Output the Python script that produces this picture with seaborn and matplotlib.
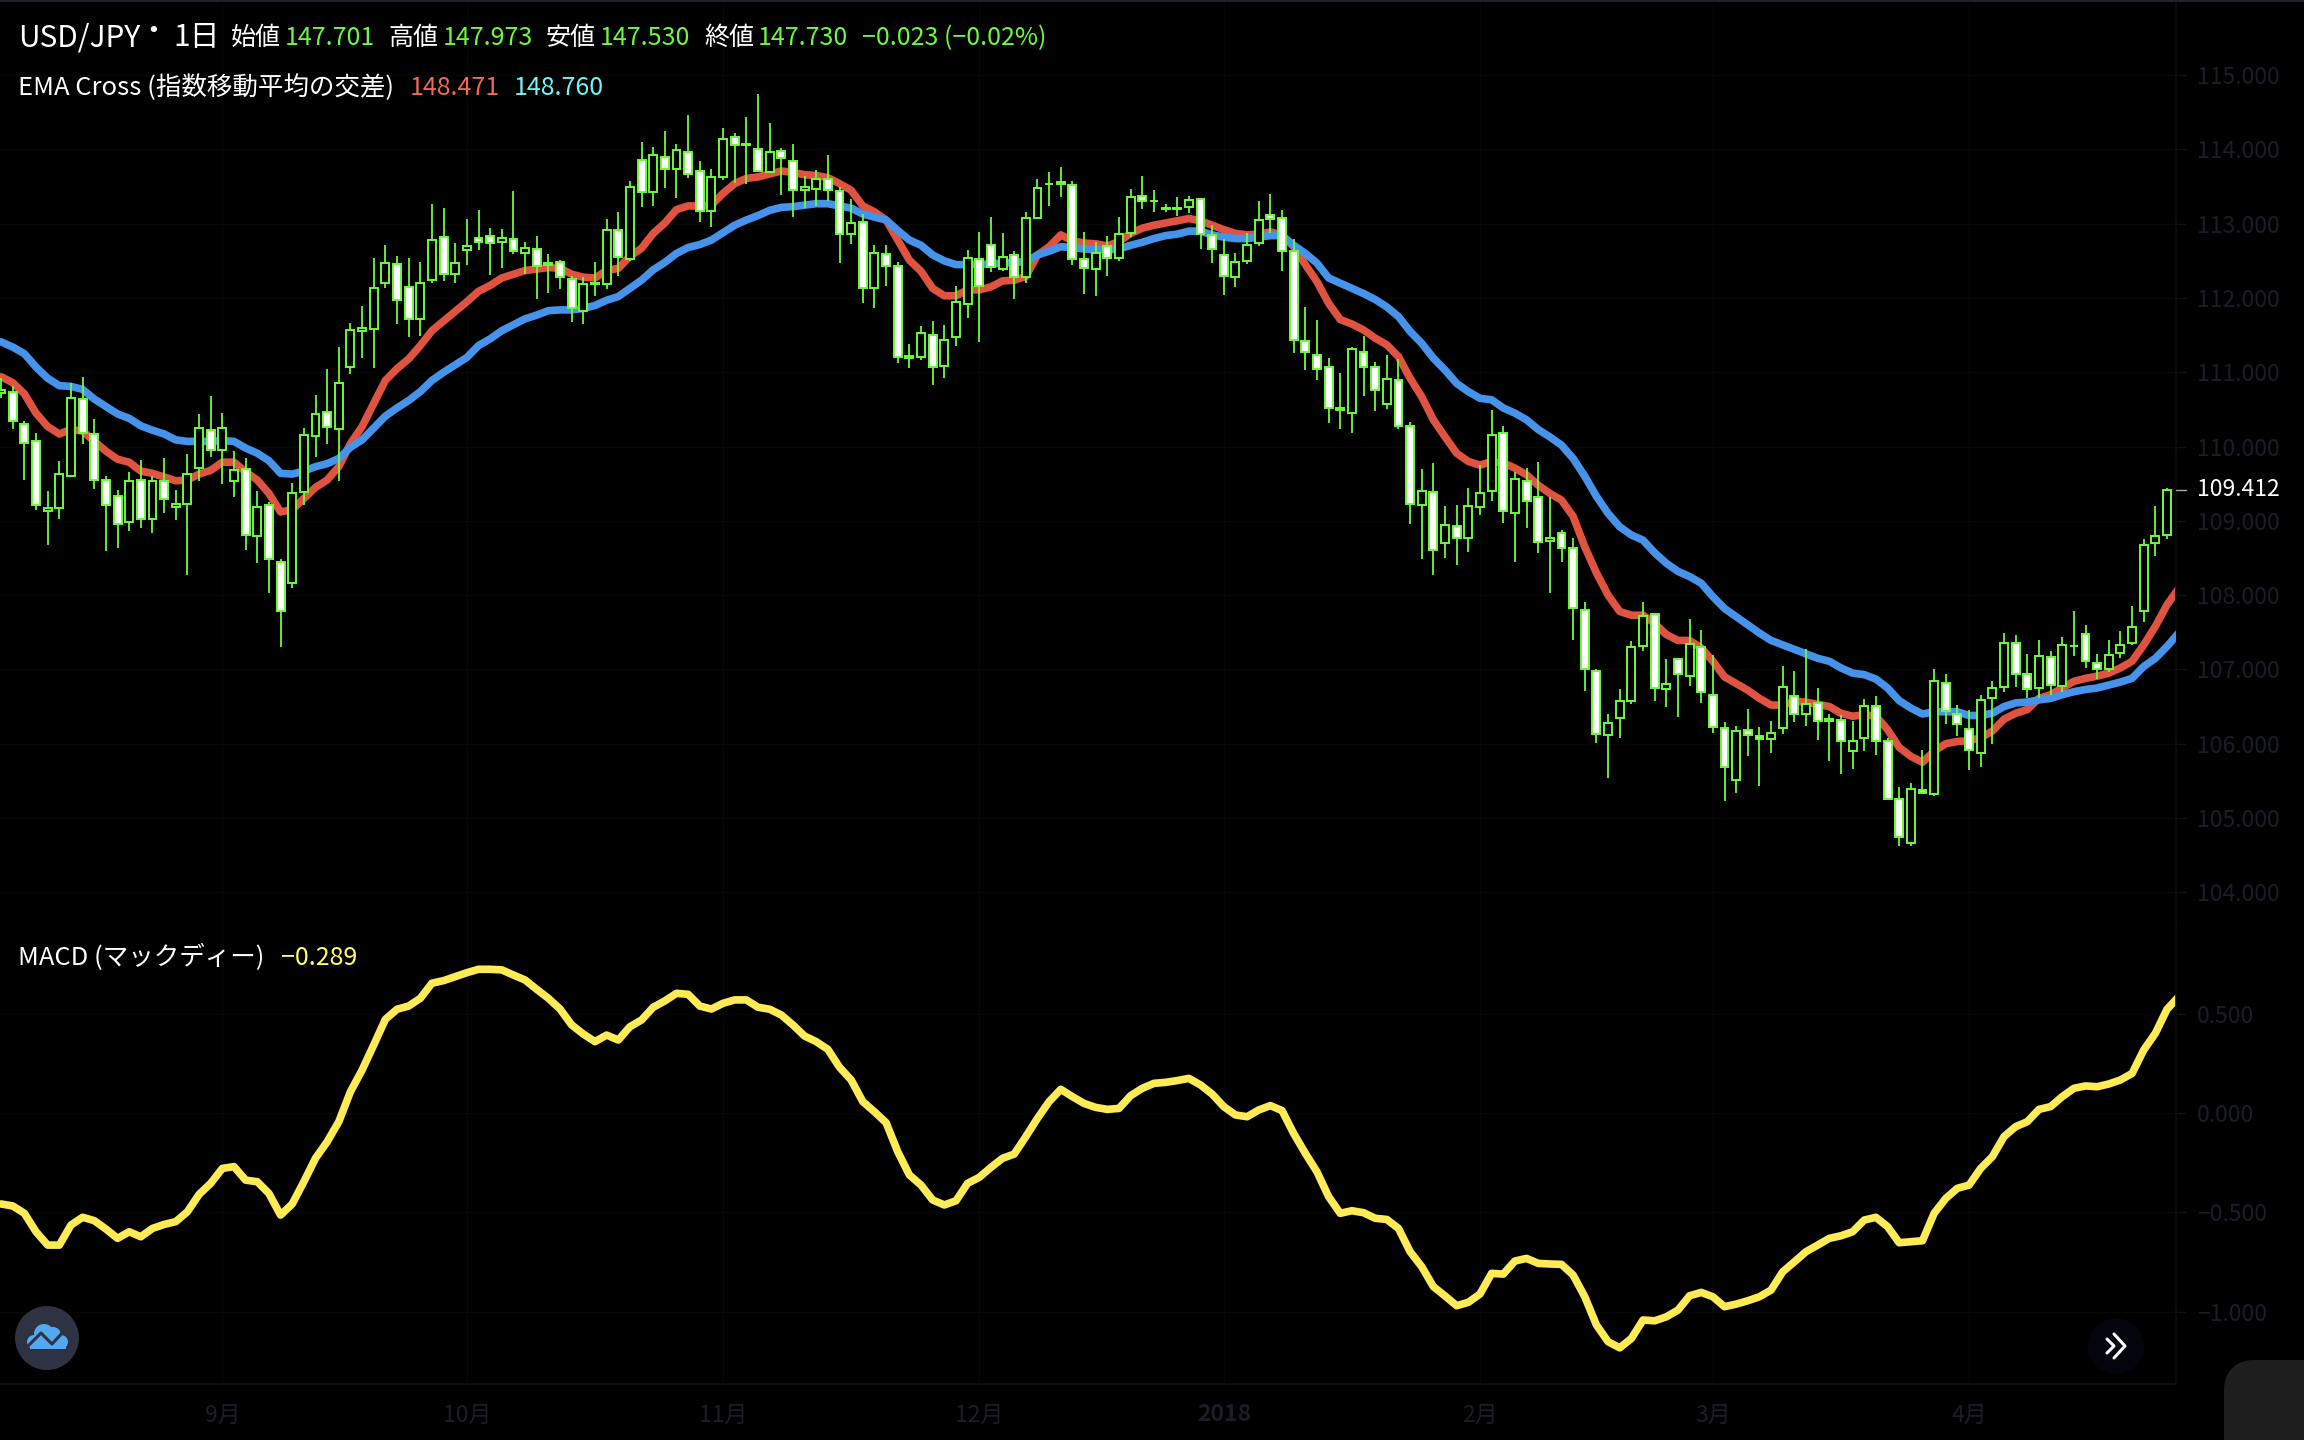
import pandas as pd
import seaborn as sns
import matplotlib.pyplot as plt
from matplotlib.patches import Circle, FancyBboxPatch, Rectangle

# daily candles
opens = [110.72, 110.73, 110.31, 110.07, 109.13, 109.17, 109.61, 110.64, 110.17, 109.55,
         109.34, 108.98, 109.55, 109.03, 109.54, 109.18, 109.23, 109.71, 110.23, 109.96,
         109.54, 109.70, 108.80, 109.22, 108.44, 108.17, 109.39, 110.14, 110.47, 110.24,
         111.07, 111.55, 111.58, 112.20, 112.46, 112.15, 111.72, 112.24, 112.82, 112.33,
         112.64, 112.81, 112.84, 112.75, 112.80, 112.60, 112.66, 112.44, 112.48, 112.26,
         111.82, 112.19, 112.19, 112.92, 112.53, 113.86, 113.43, 113.90, 113.74, 113.97,
         113.71, 113.17, 113.63, 114.17, 114.06, 114.01, 113.70, 113.98, 113.85, 113.45,
         113.47, 113.60, 113.44, 112.86, 113.02, 112.14, 112.59, 112.43, 111.19, 111.21,
         111.50, 111.09, 111.48, 111.92, 112.53, 112.71, 112.39, 112.58, 112.28, 113.08,
         113.53, 113.54, 113.52, 112.53, 112.39, 112.70, 112.54, 112.88, 113.37, 113.30,
         113.20, 113.20, 113.22, 113.33, 112.85, 112.58, 112.28, 112.50, 112.74, 113.12,
         113.08, 112.63, 111.42, 111.23, 111.07, 110.49, 110.45, 111.27, 111.07, 110.57,
         110.90, 110.28, 109.22, 109.39, 108.70, 108.93, 108.77, 109.18, 109.40, 110.18,
         109.10, 109.54, 109.32, 108.73, 108.84, 108.64, 107.80, 106.98, 106.12, 106.34,
         106.57, 107.32, 107.75, 106.74, 107.14, 106.91, 107.30, 106.66, 106.21, 105.51,
         106.19, 106.11, 106.07, 106.21, 106.64, 106.40, 106.55, 106.30, 106.32, 105.90,
         106.08, 106.51, 106.03, 105.26, 104.66, 105.38, 105.32, 106.82, 106.40, 106.20,
         105.88, 106.61, 106.77, 107.36, 106.94, 106.75, 107.17, 106.78, 107.31, 107.48,
         107.09, 107.01, 107.22, 107.36, 107.78, 108.70, 108.81]
closes = [110.76, 110.34, 110.05, 109.21, 109.17, 109.63, 110.66, 110.18, 109.55, 109.22,
          108.96, 109.54, 109.03, 109.53, 109.30, 109.23, 109.63, 110.25, 109.95, 110.25,
          109.68, 108.81, 109.19, 108.49, 107.79, 109.38, 110.16, 110.44, 110.27, 110.85,
          111.57, 111.59, 112.14, 112.47, 111.98, 111.72, 112.20, 112.78, 112.32, 112.47,
          112.70, 112.76, 112.74, 112.81, 112.63, 112.68, 112.43, 112.47, 112.28, 111.87,
          112.19, 112.20, 112.92, 112.55, 113.50, 113.43, 113.93, 113.74, 113.99, 113.67,
          113.17, 113.63, 114.14, 114.06, 114.07, 113.71, 113.97, 113.88, 113.45, 113.49,
          113.60, 113.45, 112.86, 113.01, 112.14, 112.61, 112.43, 111.21, 111.22, 111.53,
          111.07, 111.44, 111.95, 112.54, 112.16, 112.42, 112.55, 112.28, 113.08, 113.48,
          113.54, 113.56, 112.53, 112.40, 112.61, 112.54, 112.86, 113.36, 113.31, 113.31,
          113.21, 113.21, 113.32, 112.86, 112.66, 112.30, 112.49, 112.71, 113.05, 113.07,
          112.63, 111.44, 111.28, 111.05, 110.52, 110.52, 111.32, 111.07, 110.76, 110.91,
          110.28, 109.23, 109.40, 108.61, 108.95, 108.77, 109.20, 109.38, 110.16, 109.13,
          109.57, 109.27, 108.72, 108.77, 108.64, 107.83, 107.01, 106.13, 106.28, 106.58,
          107.30, 107.72, 106.75, 106.81, 106.94, 107.34, 106.69, 106.23, 105.69, 106.17,
          106.12, 106.07, 106.15, 106.77, 106.40, 106.54, 106.31, 106.33, 106.04, 106.04,
          106.51, 106.03, 105.26, 104.75, 105.39, 105.34, 106.84, 106.44, 106.27, 105.91,
          106.59, 106.75, 107.36, 106.94, 106.74, 107.18, 106.79, 107.33, 107.32, 107.12,
          107.00, 107.20, 107.33, 107.57, 108.68, 108.79, 109.41]
highs = [110.92, 110.82, 110.35, 110.18, 109.40, 109.80, 110.86, 110.94, 110.37, 109.60,
         109.41, 109.66, 109.82, 109.60, 109.84, 109.42, 109.90, 110.44, 110.68, 110.45,
         109.94, 109.84, 109.40, 109.25, 108.49, 109.51, 110.25, 110.70, 111.05, 111.34,
         111.66, 111.89, 112.54, 112.72, 112.56, 112.54, 112.48, 113.27, 113.21, 112.74,
         113.06, 113.19, 112.94, 112.93, 113.44, 112.76, 112.83, 112.59, 112.51, 112.30,
         112.28, 112.48, 113.06, 113.16, 113.57, 114.10, 114.03, 114.25, 114.07, 114.46,
         113.85, 113.74, 114.29, 114.22, 114.44, 114.75, 114.36, 114.02, 114.07, 113.64,
         113.72, 113.93, 113.50, 113.33, 113.13, 112.71, 112.71, 112.49, 111.38, 111.63,
         111.69, 111.64, 112.16, 112.65, 112.89, 113.09, 112.88, 112.63, 113.16, 113.60,
         113.70, 113.76, 113.57, 112.89, 112.75, 112.84, 113.09, 113.47, 113.64, 113.45,
         113.27, 113.36, 113.38, 113.34, 112.98, 112.80, 112.61, 112.87, 113.31, 113.40,
         113.19, 112.80, 111.88, 111.70, 111.19, 110.99, 111.34, 111.49, 111.14, 111.23,
         111.18, 110.33, 109.70, 109.78, 109.20, 109.22, 109.44, 109.75, 110.49, 110.28,
         109.66, 109.71, 109.79, 109.32, 108.88, 108.77, 107.91, 107.00, 106.40, 106.73,
         107.38, 107.91, 107.76, 107.14, 107.15, 107.68, 107.53, 107.20, 106.29, 106.24,
         106.47, 106.23, 106.31, 107.05, 106.98, 107.28, 106.75, 106.40, 106.38, 106.31,
         106.60, 106.64, 106.08, 105.42, 105.47, 105.91, 107.00, 106.94, 106.52, 106.46,
         106.66, 106.85, 107.49, 107.47, 107.21, 107.40, 107.25, 107.43, 107.79, 107.60,
         107.21, 107.39, 107.52, 107.86, 108.75, 109.20, 109.44]
lows = [110.65, 110.24, 109.55, 109.15, 108.68, 109.03, 109.59, 110.03, 109.43, 108.60,
        108.63, 108.87, 108.91, 108.83, 109.10, 109.01, 108.27, 109.53, 109.86, 109.49,
        109.32, 108.61, 108.43, 108.03, 107.30, 108.09, 109.21, 109.86, 110.04, 109.53,
        110.98, 111.19, 111.06, 112.13, 111.65, 111.47, 111.49, 112.20, 112.23, 112.20,
        112.45, 112.65, 112.31, 112.41, 112.59, 112.32, 111.99, 112.07, 112.12, 111.68,
        111.65, 112.03, 112.12, 112.29, 112.50, 113.23, 113.24, 113.48, 113.34, 113.62,
        113.02, 112.96, 113.59, 113.55, 113.54, 113.69, 113.68, 113.39, 113.09, 113.21,
        113.24, 113.31, 112.47, 112.73, 111.93, 111.87, 112.16, 111.13, 111.06, 111.17,
        110.83, 110.93, 111.36, 111.73, 111.41, 112.35, 112.37, 111.99, 112.20, 113.06,
        113.24, 113.36, 112.45, 112.05, 112.03, 112.30, 112.50, 112.82, 113.20, 113.16,
        113.16, 113.10, 113.15, 112.66, 112.47, 112.04, 112.15, 112.46, 112.70, 112.88,
        112.36, 111.26, 111.03, 110.90, 110.32, 110.24, 110.18, 110.68, 110.48, 110.51,
        110.24, 108.96, 108.49, 108.27, 108.50, 108.41, 108.58, 109.08, 109.27, 108.97,
        108.45, 108.91, 108.57, 108.03, 108.44, 107.40, 106.71, 106.01, 105.54, 106.08,
        106.54, 107.25, 106.58, 106.50, 106.36, 106.78, 106.55, 106.15, 105.23, 105.34,
        105.84, 105.43, 105.88, 106.13, 106.29, 106.24, 106.05, 105.77, 105.59, 105.66,
        105.90, 105.85, 105.26, 104.62, 104.62, 105.33, 105.30, 106.26, 106.11, 105.65,
        105.68, 105.99, 106.70, 106.77, 106.61, 106.61, 106.65, 106.69, 107.18, 107.02,
        106.87, 106.97, 107.16, 107.33, 107.64, 108.53, 108.76]

ema_fast = [110.94, 110.86, 110.71, 110.45, 110.27, 110.17, 110.23, 110.21, 110.07, 109.94,
            109.83, 109.79, 109.67, 109.64, 109.59, 109.54, 109.55, 109.63, 109.68, 109.79,
            109.79, 109.66, 109.55, 109.37, 109.12, 109.15, 109.30, 109.45, 109.55, 109.73,
            110.04, 110.27, 110.58, 110.89, 111.05, 111.18, 111.36, 111.56, 111.69, 111.82,
            111.95, 112.09, 112.17, 112.27, 112.32, 112.37, 112.39, 112.41, 112.40, 112.32,
            112.28, 112.27, 112.37, 112.40, 112.56, 112.67, 112.87, 113.01, 113.19, 113.24,
            113.24, 113.25, 113.41, 113.54, 113.61, 113.63, 113.67, 113.71, 113.69, 113.66,
            113.65, 113.62, 113.54, 113.45, 113.24, 113.16, 113.05, 112.78, 112.51, 112.36,
            112.13, 112.03, 112.03, 112.11, 112.11, 112.15, 112.23, 112.24, 112.29, 112.58,
            112.69, 112.85, 112.77, 112.74, 112.73, 112.70, 112.76, 112.87, 112.94, 112.98,
            113.01, 113.04, 113.07, 113.04, 112.98, 112.92, 112.87, 112.85, 112.86, 112.89,
            112.85, 112.69, 112.45, 112.22, 111.93, 111.71, 111.65, 111.57, 111.46, 111.37,
            111.21, 110.92, 110.67, 110.36, 110.13, 109.91, 109.80, 109.75, 109.80, 109.78,
            109.71, 109.62, 109.48, 109.37, 109.28, 109.06, 108.65, 108.30, 108.00, 107.78,
            107.73, 107.73, 107.62, 107.47, 107.39, 107.39, 107.29, 107.11, 106.90, 106.81,
            106.72, 106.61, 106.52, 106.52, 106.57, 106.56, 106.53, 106.50, 106.41, 106.37,
            106.39, 106.37, 106.19, 105.95, 105.83, 105.75, 105.90, 106.00, 106.03, 106.04,
            106.08, 106.17, 106.33, 106.41, 106.46, 106.61, 106.66, 106.75, 106.84, 106.88,
            106.91, 106.95, 107.02, 107.11, 107.33, 107.58, 107.87, 108.09]
ema_slow = [111.41, 111.34, 111.25, 111.07, 110.92, 110.82, 110.81, 110.77, 110.64, 110.54,
            110.44, 110.38, 110.28, 110.22, 110.17, 110.09, 110.07, 110.07, 110.07, 110.08,
            110.07, 109.98, 109.91, 109.81, 109.64, 109.63, 109.67, 109.73, 109.77, 109.84,
            109.99, 110.09, 110.25, 110.41, 110.52, 110.62, 110.74, 110.89, 111.00, 111.10,
            111.20, 111.36, 111.45, 111.56, 111.64, 111.72, 111.77, 111.83, 111.84, 111.84,
            111.86, 111.90, 111.97, 112.02, 112.13, 112.24, 112.38, 112.48, 112.60, 112.68,
            112.72, 112.78, 112.88, 112.98, 113.05, 113.11, 113.18, 113.22, 113.23, 113.25,
            113.27, 113.27, 113.24, 113.21, 113.13, 113.09, 113.05, 112.91, 112.78, 112.71,
            112.58, 112.50, 112.45, 112.45, 112.45, 112.46, 112.47, 112.48, 112.49, 112.58,
            112.63, 112.69, 112.68, 112.66, 112.65, 112.65, 112.66, 112.71, 112.75, 112.80,
            112.84, 112.86, 112.90, 112.90, 112.85, 112.82, 112.80, 112.80, 112.82, 112.84,
            112.84, 112.71, 112.60, 112.47, 112.27, 112.20, 112.13, 112.06, 111.98, 111.88,
            111.75, 111.55, 111.39, 111.19, 111.03, 110.85, 110.74, 110.65, 110.63, 110.52,
            110.45, 110.36, 110.23, 110.13, 110.02, 109.84, 109.60, 109.33, 109.10, 108.92,
            108.81, 108.74, 108.57, 108.43, 108.32, 108.25, 108.16, 107.98, 107.82, 107.71,
            107.60, 107.49, 107.39, 107.33, 107.27, 107.21, 107.15, 107.11, 107.02, 106.95,
            106.93, 106.87, 106.75, 106.58, 106.48, 106.40, 106.43, 106.43, 106.43, 106.38,
            106.38, 106.41, 106.50, 106.55, 106.56, 106.59, 106.61, 106.66, 106.70, 106.73,
            106.75, 106.79, 106.83, 106.88, 107.04, 107.15, 107.31, 107.49]
macd = [-0.458, -0.468, -0.505, -0.598, -0.665, -0.665, -0.564, -0.525, -0.542, -0.584,
        -0.631, -0.598, -0.623, -0.581, -0.561, -0.547, -0.497, -0.410, -0.354, -0.279,
        -0.270, -0.338, -0.346, -0.405, -0.514, -0.458, -0.346, -0.228, -0.145, -0.044,
        0.107, 0.216, 0.342, 0.471, 0.522, 0.538, 0.577, 0.653, 0.666, 0.686,
        0.706, 0.723, 0.723, 0.720, 0.694, 0.669, 0.622, 0.577, 0.523, 0.443,
        0.397, 0.359, 0.392, 0.367, 0.434, 0.468, 0.532, 0.564, 0.602, 0.597,
        0.538, 0.523, 0.552, 0.569, 0.569, 0.532, 0.522, 0.493, 0.443, 0.387,
        0.359, 0.320, 0.230, 0.166, 0.057, 0.006, -0.049, -0.195, -0.312, -0.363,
        -0.438, -0.463, -0.442, -0.354, -0.324, -0.274, -0.228, -0.207, -0.119, -0.027,
        0.057, 0.119, 0.082, 0.048, 0.028, 0.018, 0.023, 0.087, 0.124, 0.149,
        0.154, 0.163, 0.174, 0.141, 0.095, 0.032, -0.010, -0.019, 0.015, 0.037,
        0.012, -0.103, -0.203, -0.296, -0.421, -0.505, -0.492, -0.502, -0.530, -0.536,
        -0.581, -0.698, -0.774, -0.874, -0.921, -0.970, -0.953, -0.911, -0.807, -0.811,
        -0.745, -0.732, -0.757, -0.760, -0.762, -0.816, -0.925, -1.067, -1.151, -1.182,
        -1.135, -1.042, -1.046, -1.026, -0.992, -0.920, -0.903, -0.925, -0.975, -0.962,
        -0.945, -0.925, -0.891, -0.799, -0.749, -0.698, -0.665, -0.631, -0.618, -0.598,
        -0.539, -0.525, -0.572, -0.653, -0.648, -0.643, -0.505, -0.430, -0.379, -0.363,
        -0.279, -0.220, -0.119, -0.069, -0.044, 0.018, 0.032, 0.082, 0.124, 0.136,
        0.132, 0.146, 0.166, 0.199, 0.317, 0.401, 0.522, 0.585]

price_ticks = [104, 105, 106, 107, 108, 109, 110, 111, 112, 113, 114, 115]
macd_ticks = [-1.0, -0.5, 0.0, 0.5]
month_pos = [19, 40, 62, 84, 105, 127, 147, 169]
month_labels = ['9月', '10月', '11月', '12月', '2018', '2月', '3月', '4月']

GREEN = '#6cfb3c'
RED = '#e05340'
BLUE = '#4693ec'
YELLOW = '#ffeb55'
FAINT = '#070708'
AXIS_TEXT = '#1b1d27'

sns.set_theme(style='dark', rc={'axes.facecolor': 'black', 'figure.facecolor': 'black'})
plt.rcParams['font.family'] = ['Noto Sans CJK JP', 'DejaVu Sans']

W, H = 2304, 1440
fig = plt.figure(figsize=(W / 100, H / 100), dpi=100)


def pane(top, bottom):
    return fig.add_axes([0, 1 - bottom / H, 2176 / W, (bottom - top) / H])


ax = pane(2, 922)
ax2 = pane(922, 1384)

candles = pd.DataFrame({'open': opens, 'high': highs, 'low': lows, 'close': closes})
candles['day'] = candles.index
lines = pd.DataFrame({'day': range(len(macd)), 'fast': ema_fast, 'slow': ema_slow, 'macd': macd})

sns.lineplot(data=lines, x='day', y='fast', color=RED, linewidth=5.5, ax=ax, zorder=2)
sns.lineplot(data=lines, x='day', y='slow', color=BLUE, linewidth=5.5, ax=ax, zorder=3)
sns.lineplot(data=lines, x='day', y='macd', color=YELLOW, linewidth=5.5, ax=ax2, zorder=2)

ax.vlines(candles['day'], candles['low'], candles['high'], color=GREEN, linewidth=1.3, zorder=4)
faces = ['white' if o > c else 'black' for o, c in zip(opens, closes)]
ax.bar(candles['day'], (candles['close'] - candles['open']).abs(),
       bottom=candles[['open', 'close']].min(axis=1), width=0.68,
       color=faces, edgecolor=GREEN, linewidth=1.4, zorder=5)

for a in (ax, ax2):
    a.set_xlim(-0.094, 186.77)
    a.set_xlabel('')
    a.set_ylabel('')
    a.set_facecolor('black')
    a.set_xticks(month_pos)
    a.grid(True, color=FAINT, linewidth=1)
    a.set_axisbelow(True)
    a.yaxis.tick_right()
    a.tick_params(axis='y', length=7, width=1, color='#111113', pad=8, labelsize=16.5,
                  labelcolor=AXIS_TEXT)
    for side in ('top', 'left', 'bottom'):
        a.spines[side].set_visible(False)
    a.spines['right'].set_color('#0e0e10')
    a.spines['right'].set_linewidth(1.2)

ax.set_ylim(103.6, 115.985)
ax.set_yticks(price_ticks)
ax.set_yticklabels([f'{t:.3f}' for t in price_ticks])
ax.tick_params(axis='x', length=0, labelbottom=False)

ax2.set_ylim(-1.364, 0.961)
ax2.set_yticks(macd_ticks)
ax2.set_yticklabels([f'{t:.3f}'.replace('-', '−') for t in macd_ticks])
ax2.set_xticklabels(month_labels)
ax2.tick_params(axis='x', length=7, width=1, color='#111113', pad=7, labelsize=16.5,
                labelcolor=AXIS_TEXT)
ax2.spines['bottom'].set_visible(True)
ax2.spines['bottom'].set_color('#0e0e10')
for lab in ax2.get_xticklabels():
    if lab.get_text() == '2018':
        lab.set_fontweight('bold')

# overlay in pixels for the header texts and the little widgets
ov = fig.add_axes([0, 0, 1, 1], zorder=10)
ov.set_xlim(0, W)
ov.set_ylim(H, 0)
ov.axis('off')
ov.patch.set_alpha(0)

ov.add_patch(Rectangle((0, 0), W, 2, color='#1c2228', lw=0))


def label(x, y, s, color='white', size=18):
    ov.text(x, y, s, color=color, fontsize=size, va='center', ha='left')


label(18, 38, 'USD/JPY', size=21.5)
label(138, 31, '・', size=21.5)
label(173, 38, '1日', size=21.5)
label(231, 38, '始値')
label(285, 38, '147.701', GREEN)
label(388, 38, '高値')
label(443, 38, '147.973', GREEN)
label(546, 38, '安値')
label(600, 38, '147.530', GREEN)
label(704, 38, '終値')
label(758, 38, '147.730', GREEN)
label(862, 38, '−0.023 (−0.02%)', GREEN)
label(18, 88, 'EMA Cross (指数移動平均の交差)', size=18.4)
label(410, 88, '148.471', '#f2694f')
label(514, 88, '148.760', '#6ff5f5')
label(18, 958, 'MACD (マックディー)', size=18.4)
label(281, 958, '−0.289', '#ffff66')
label(2197, 490, '109.412', size=16.5)
ov.plot([2176, 2186], [490, 490], color='#aaaaaa', lw=1)

# logo
ov.add_patch(Circle((47, 1338), 32, color='#2e3242', lw=0))
for cx, cy, r in [(34, 1342, 7), (44, 1334, 10), (53, 1335, 8), (61, 1342, 7)]:
    ov.add_patch(Circle((cx, cy), r, color='#53a8f0', lw=0))
ov.add_patch(Rectangle((30, 1341), 36, 8, color='#53a8f0', lw=0))
ov.plot([27, 41, 52, 65], [1347, 1333, 1344, 1330], color='#2e3242', lw=2.2)

# scroll button
ov.add_patch(Circle((2116, 1346), 28, color='#04040f', lw=0))
ov.plot([2107, 2114, 2107], [1339, 1346, 1353], color='white', lw=2.2, solid_capstyle='round')
ov.plot([2114, 2125, 2114], [1334, 1346, 1358], color='white', lw=2.2, solid_capstyle='round')

# corner box
ov.add_patch(FancyBboxPatch((2239, 1375), 100, 100, boxstyle='round,pad=0,rounding_size=15',
                            mutation_aspect=1, facecolor='#1e1e1e', edgecolor='#1e1e1e',
                            linewidth=30 * 0.72))

fig.savefig('out.png', dpi=100, facecolor='black')
